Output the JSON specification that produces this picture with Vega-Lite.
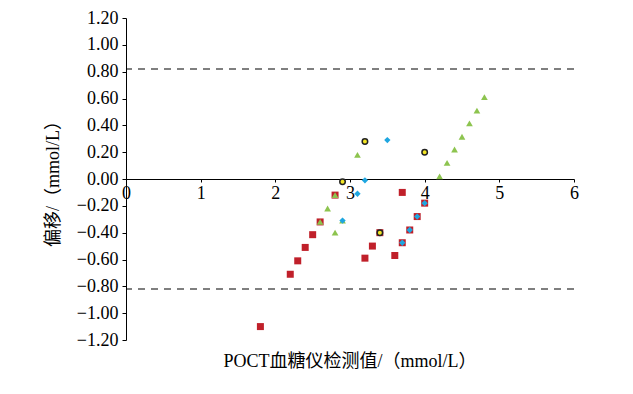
{
  "$schema": "https://vega.github.io/schema/vega-lite/v6.json",
  "width": 448,
  "height": 322,
  "autosize": {"type": "none"},
  "padding": {"left": 126, "top": 18, "right": 59, "bottom": 54},
  "background": "white",
  "config": {
    "view": {"stroke": null},
    "font": "Liberation Serif",
    "axis": {"grid": false, "domainColor": "#000", "tickColor": "#000", "labelColor": "#000", "titleColor": "#000", "labelFont": "Liberation Serif", "labelFontSize": 18, "titleFont": "Liberation Serif, Noto Sans CJK SC", "titleFontSize": 18, "titleFontWeight": "normal", "domainWidth": 1, "tickWidth": 1, "labelOverlap": false}
  },
  "title": {
    "text": "POCT血糖仪检测值/（mmol/L）",
    "orient": "bottom",
    "anchor": "middle",
    "font": "Liberation Serif, Noto Sans CJK SC",
    "fontSize": 18,
    "fontWeight": "normal",
    "color": "#000",
    "offset": 4
  },
  "datasets": {
    "points": [
      {"x": 1.8, "y": -1.10, "series": "A"},
      {"x": 2.2, "y": -0.71, "series": "A"},
      {"x": 2.3, "y": -0.61, "series": "A"},
      {"x": 2.4, "y": -0.51, "series": "A"},
      {"x": 2.5, "y": -0.415, "series": "A"},
      {"x": 2.6, "y": -0.32, "series": "A"},
      {"x": 2.8, "y": -0.12, "series": "A"},
      {"x": 3.2, "y": -0.59, "series": "A"},
      {"x": 3.3, "y": -0.50, "series": "A"},
      {"x": 3.4, "y": -0.40, "series": "A"},
      {"x": 3.6, "y": -0.57, "series": "A"},
      {"x": 3.7, "y": -0.10, "series": "A"},
      {"x": 3.7, "y": -0.475, "series": "A"},
      {"x": 3.8, "y": -0.38, "series": "A"},
      {"x": 3.9, "y": -0.28, "series": "A"},
      {"x": 4.0, "y": -0.18, "series": "A"},
      {"x": 2.6, "y": -0.32, "series": "B"},
      {"x": 2.7, "y": -0.22, "series": "B"},
      {"x": 2.8, "y": -0.12, "series": "B"},
      {"x": 2.8, "y": -0.40, "series": "B"},
      {"x": 2.9, "y": -0.31, "series": "B"},
      {"x": 3.1, "y": 0.18, "series": "B"},
      {"x": 4.2, "y": 0.02, "series": "B"},
      {"x": 4.3, "y": 0.12, "series": "B"},
      {"x": 4.4, "y": 0.22, "series": "B"},
      {"x": 4.5, "y": 0.315, "series": "B"},
      {"x": 4.6, "y": 0.415, "series": "B"},
      {"x": 4.7, "y": 0.51, "series": "B"},
      {"x": 4.8, "y": 0.61, "series": "B"},
      {"x": 2.9, "y": -0.31, "series": "C"},
      {"x": 3.1, "y": -0.11, "series": "C"},
      {"x": 3.2, "y": -0.01, "series": "C"},
      {"x": 3.5, "y": 0.29, "series": "C"},
      {"x": 3.7, "y": -0.475, "series": "C"},
      {"x": 3.8, "y": -0.38, "series": "C"},
      {"x": 3.9, "y": -0.28, "series": "C"},
      {"x": 4.0, "y": -0.18, "series": "C"},
      {"x": 2.9, "y": -0.02, "series": "D"},
      {"x": 3.2, "y": 0.28, "series": "D"},
      {"x": 3.4, "y": -0.40, "series": "D"},
      {"x": 4.0, "y": 0.20, "series": "D"}
    ],
    "limits": [{"y": 0.82}, {"y": -0.82}]
  },
  "layer": [
    {
      "data": {"name": "limits"},
      "mark": {"type": "rule", "color": "#000", "strokeDash": [7, 6], "strokeWidth": 1.2, "opacity": 1},
      "encoding": {
        "y": {"field": "y", "type": "quantitative", "scale": {"domain": [-1.2, 1.2], "nice": false},
          "axis": {"title": "偏移/（mmol/L）", "titlePadding": 14, "tickCount": 12, "format": ".2f", "tickSize": 4, "labelPadding": 4}}
      }
    },
    {
      "data": {"name": "points"},
      "transform": [{"filter": "datum.series === 'A'"}],
      "mark": {"type": "point", "shape": "square", "filled": true, "size": 49, "color": "#C0202A", "opacity": 1},
      "encoding": {
        "x": {"field": "x", "type": "quantitative", "scale": {"domain": [0, 6], "nice": false},
          "axis": {"title": null, "tickCount": 6, "format": "d", "offset": -161, "tickSize": 3, "labelPadding": 2, "labelFlush": false}},
        "y": {"field": "y", "type": "quantitative"}
      }
    },
    {
      "data": {"name": "points"},
      "transform": [{"filter": "datum.series === 'B'"}],
      "mark": {"type": "point", "shape": "triangle-up", "filled": true, "size": 45, "color": "#8DC44F", "opacity": 1},
      "encoding": {
        "x": {"field": "x", "type": "quantitative"},
        "y": {"field": "y", "type": "quantitative"}
      }
    },
    {
      "data": {"name": "points"},
      "transform": [{"filter": "datum.series === 'C'"}],
      "mark": {"type": "point", "shape": "diamond", "filled": true, "size": 40, "color": "#1EA6E0", "opacity": 1},
      "encoding": {
        "x": {"field": "x", "type": "quantitative"},
        "y": {"field": "y", "type": "quantitative"}
      }
    },
    {
      "data": {"name": "points"},
      "transform": [{"filter": "datum.series === 'D'"}],
      "mark": {"type": "point", "shape": "circle", "filled": true, "size": 30, "fill": "#F2E524", "stroke": "#222", "strokeWidth": 1.5, "opacity": 1},
      "encoding": {
        "x": {"field": "x", "type": "quantitative"},
        "y": {"field": "y", "type": "quantitative"}
      }
    }
  ]
}
